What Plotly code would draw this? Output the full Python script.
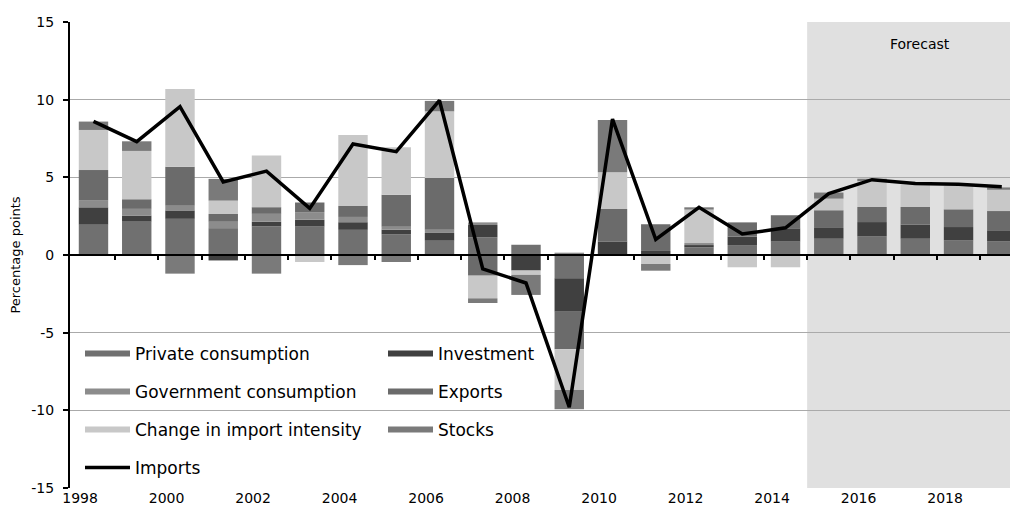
import plotly.graph_objects as go

# Contributions to import growth (percentage points), 1998-2019
years = list(range(1998, 2020))

private_consumption = [1.95, 2.15, 2.33, 1.73, 1.84, 1.83, 1.62, 1.34, 0.92, 1.14, 0.66, -1.50,
                       0.00, 0.00, 0.49, 0.64, 0.86, 1.05, 1.20, 1.05, 0.94, 0.88]
investment = [1.12, 0.39, 0.54, -0.35, 0.30, 0.44, 0.49, 0.29, 0.50, 0.79, -1.00, -2.15,
              0.86, 0.26, 0.15, 0.54, 0.86, 0.69, 0.92, 0.90, 0.86, 0.71]
government_consumption = [0.43, 0.43, 0.30, 0.41, 0.51, 0.49, 0.34, 0.19, 0.21, 0.17, 0.00, 0.15,
                          0.00, 0.00, 0.13, 0.00, 0.00, 0.00, 0.00, 0.00, 0.00, 0.00]
exports = [1.97, 0.62, 2.51, 0.50, 0.43, 0.62, 0.71, 2.06, 3.33, -1.33, 0.00, -2.42,
           2.10, 1.72, 0.00, 0.92, 0.84, 1.14, 0.97, 1.14, 1.14, 1.24]
import_intensity = [2.58, 3.11, 5.00, 0.86, 3.33, -0.45, 4.57, 3.05, 4.29, -1.46, -0.28, -2.62,
                    2.36, -0.58, 2.15, -0.79, -0.79, 0.75, 1.67, 1.46, 1.55, 1.37]
stocks = [0.54, 0.62, -1.20, 1.40, -1.20, 0.00, -0.65, -0.45, 0.67, -0.30, -1.29, -1.24,
          3.37, -0.43, 0.15, 0.00, 0.00, 0.39, 0.15, 0.00, 0.00, 0.15]
imports = [8.6, 7.3, 9.55, 4.7, 5.4, 3.0, 7.15, 6.65, 9.95, -0.9, -1.8, -9.8,
           8.75, 1.0, 3.07, 1.35, 1.75, 3.95, 4.85, 4.6, 4.55, 4.4]

label_years = list(range(1998, 2020, 2))
y_ticks = [-15, -10, -5, 0, 5, 10, 15]
forecast_start = 2014.5

series = [
    ("Private consumption", private_consumption, "#707070"),
    ("Investment", investment, "#404040"),
    ("Government consumption", government_consumption, "#8c8c8c"),
    ("Exports", exports, "#6b6b6b"),
    ("Change in import intensity", import_intensity, "#c8c8c8"),
    ("Stocks", stocks, "#7a7a7a"),
]

FONT = "DejaVu Sans"
W, H = 1010, 518
L, R, T, B = 70, 0, 22, 30
x_range = [1997.457, 2019.19]

fig = go.Figure()

for name, vals, color in series:
    fig.add_trace(go.Bar(
        x=years, y=vals, name=name, width=0.68,
        marker=dict(color=color, line=dict(width=0)),
        showlegend=False,
    ))

fig.add_trace(go.Scatter(
    x=years, y=imports, name="Imports", mode="lines",
    line=dict(color="black", width=3.5), showlegend=False,
))

# helper trace so the zero-line axis is drawn
fig.add_trace(go.Scatter(x=[], y=[], xaxis="x2", yaxis="y", showlegend=False, hoverinfo="skip"))

# forecast shading
fig.add_shape(type="rect", xref="x", yref="y", x0=forecast_start, x1=x_range[1],
              y0=-15, y1=15, fillcolor="#e0e0e0", line=dict(width=0), layer="below")

fig.add_annotation(x=2017.1, y=13.6, xref="x", yref="y", text="Forecast", showarrow=False,
                   font=dict(family=FONT, size=14, color="black"))

# legend drawn as swatches and text inside the plot
plot_w = W - L - R
plot_h = H - T - B


def px_x(p):
    return (p - L) / plot_w


def px_y(p):
    return (H - B - p) / plot_h


legend_rows = [353.5, 391.5, 429.5, 467.5]
legend_cols = [(85, 130, 133), (388, 433, 436)]
legend_items = [(s[0], s[2]) for s in series]
for i, (name, color) in enumerate(legend_items):
    row, col = divmod(i, 2)
    sx0, sx1, tx = legend_cols[col]
    yc = legend_rows[row]
    fig.add_shape(type="rect", xref="paper", yref="paper",
                  x0=px_x(sx0), x1=px_x(sx1), y0=px_y(yc + 3), y1=px_y(yc - 3),
                  fillcolor=color, line=dict(width=0), layer="above")
    fig.add_annotation(x=px_x(tx), y=px_y(yc), xref="paper", yref="paper", text=name,
                       showarrow=False, xanchor="left", yanchor="middle",
                       font=dict(family=FONT, size=17, color="black"))

yc = legend_rows[3]
sx0, sx1, tx = legend_cols[0]
fig.add_shape(type="line", xref="paper", yref="paper",
              x0=px_x(sx0), x1=px_x(sx1), y0=px_y(yc), y1=px_y(yc),
              line=dict(color="black", width=3.5), layer="above")
fig.add_annotation(x=px_x(tx), y=px_y(yc), xref="paper", yref="paper", text="Imports",
                   showarrow=False, xanchor="left", yanchor="middle",
                   font=dict(family=FONT, size=17, color="black"))

fig.update_layout(
    width=W, height=H,
    margin=dict(l=L, r=R, t=T, b=B, pad=0),
    paper_bgcolor="white", plot_bgcolor="white",
    barmode="relative", bargap=0.32,
    font=dict(family=FONT, size=14, color="black"),
    xaxis=dict(
        range=x_range, showgrid=False, zeroline=False, showline=False,
        tickmode="array", tickvals=[y - 0.31 for y in label_years],
        ticktext=[str(y) for y in label_years], ticks="",
        tickfont=dict(family=FONT, size=14, color="black"),
    ),
    xaxis2=dict(
        range=x_range, overlaying="x", anchor="free", position=0.5, side="bottom",
        showline=True, linecolor="black", linewidth=2, showgrid=False, zeroline=False,
        tickmode="array", tickvals=[y + 0.5 for y in years[:-1]],
        ticks="outside", ticklen=4, tickwidth=2, tickcolor="black", showticklabels=False,
    ),
    yaxis=dict(
        range=[-15, 15], tickmode="array", tickvals=y_ticks,
        ticktext=[str(v) for v in y_ticks],
        showgrid=True, gridcolor="#aaaaaa", gridwidth=1, zeroline=False,
        showline=True, linecolor="black", linewidth=2,
        ticks="outside", ticklen=5, tickwidth=2, tickcolor="black",
        ticklabelstandoff=6,
        tickfont=dict(family=FONT, size=14, color="black"),
        title=dict(text="Percentage points", font=dict(family=FONT, size=13, color="black"),
                   standoff=8),
    ),
)

fig.write_html("out.html")
